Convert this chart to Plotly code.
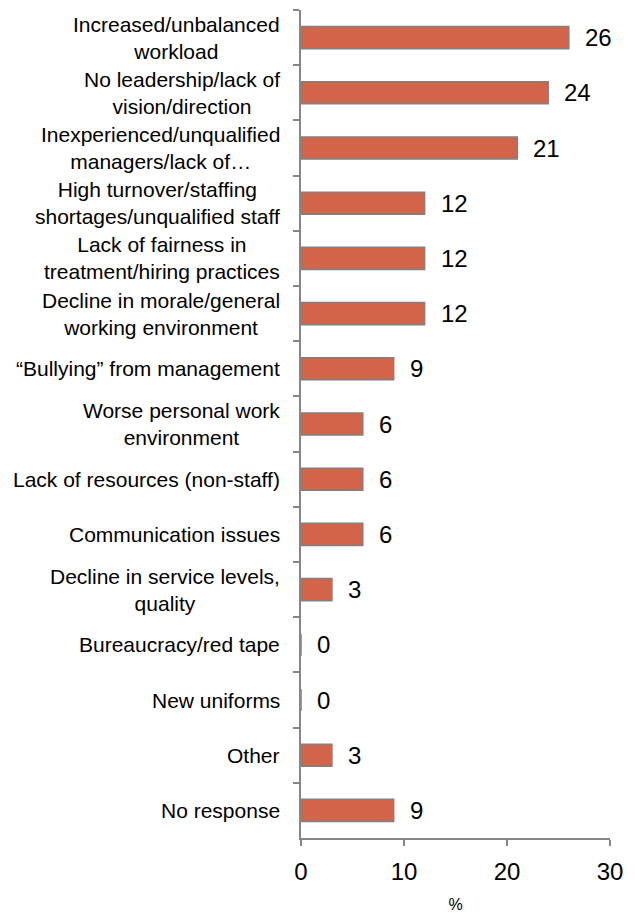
import plotly.graph_objects as go

# categories, top to bottom as in the chart
reasons = [
    "Increased/unbalanced<br>workload",
    "No leadership/lack of<br>vision/direction",
    "Inexperienced/unqualified<br>managers/lack of\u2026",
    "High turnover/staffing<br>shortages/unqualified staff",
    "Lack of fairness in<br>treatment/hiring practices",
    "Decline in morale/general<br>working environment",
    "\u201cBullying\u201d from management",
    "Worse personal work<br>environment",
    "Lack of resources (non-staff)",
    "Communication issues",
    "Decline in service levels,<br>quality",
    "Bureaucracy/red tape",
    "New uniforms",
    "Other",
    "No response",
]
pct = [26, 24, 21, 12, 12, 12, 9, 6, 6, 6, 3, 0, 0, 3, 9]
x_ticks = [0, 10, 20, 30]

FONT = "Arial, Liberation Sans, sans-serif"
AXIS_GREY = "#868686"

fig = go.Figure()
fig.add_trace(go.Bar(
    x=pct, y=reasons, orientation="h", width=0.4,
    marker=dict(color="#D2644A", line=dict(color="#808080", width=1.5)),
    hoverinfo="x",
))

for v, r in zip(pct, reasons):
    # value label right of the bar
    fig.add_annotation(x=v, y=r, text=str(v), showarrow=False,
                       xanchor="left", xshift=14,
                       font=dict(family=FONT, size=24, color="#000000"))
    # category label, lines centred like the original
    fig.add_annotation(x=0, xref="paper", y=r, text=r, showarrow=False,
                       xanchor="right", xshift=-19, align="center",
                       font=dict(family=FONT, size=21, color="#000000"))

# page body adds an 8px margin, so the figure is a bit smaller than the window
fig.update_layout(
    width=627, height=914,
    margin=dict(l=293, r=25, t=2, b=84),
    plot_bgcolor="white", paper_bgcolor="white",
    showlegend=False,
    font=dict(family=FONT, color="#000000"),
)
fig.update_xaxes(
    range=[0, 30], tickvals=x_ticks, showgrid=False, zeroline=False,
    showline=True, linecolor=AXIS_GREY, linewidth=1.5, automargin=False,
    ticks="outside", ticklen=6, tickcolor=AXIS_GREY, tickwidth=1.5,
    ticklabelstandoff=5, tickfont=dict(size=24),
    title=dict(text="%", font=dict(size=16), standoff=15),
)
fig.update_yaxes(
    autorange="reversed", showgrid=False, automargin=False,
    showline=True, linecolor=AXIS_GREY, linewidth=1.5,
    ticks="outside", ticklen=6, tickcolor=AXIS_GREY, tickwidth=1.5,
    tickson="boundaries", showticklabels=False,
)

fig.write_html("out.html")
